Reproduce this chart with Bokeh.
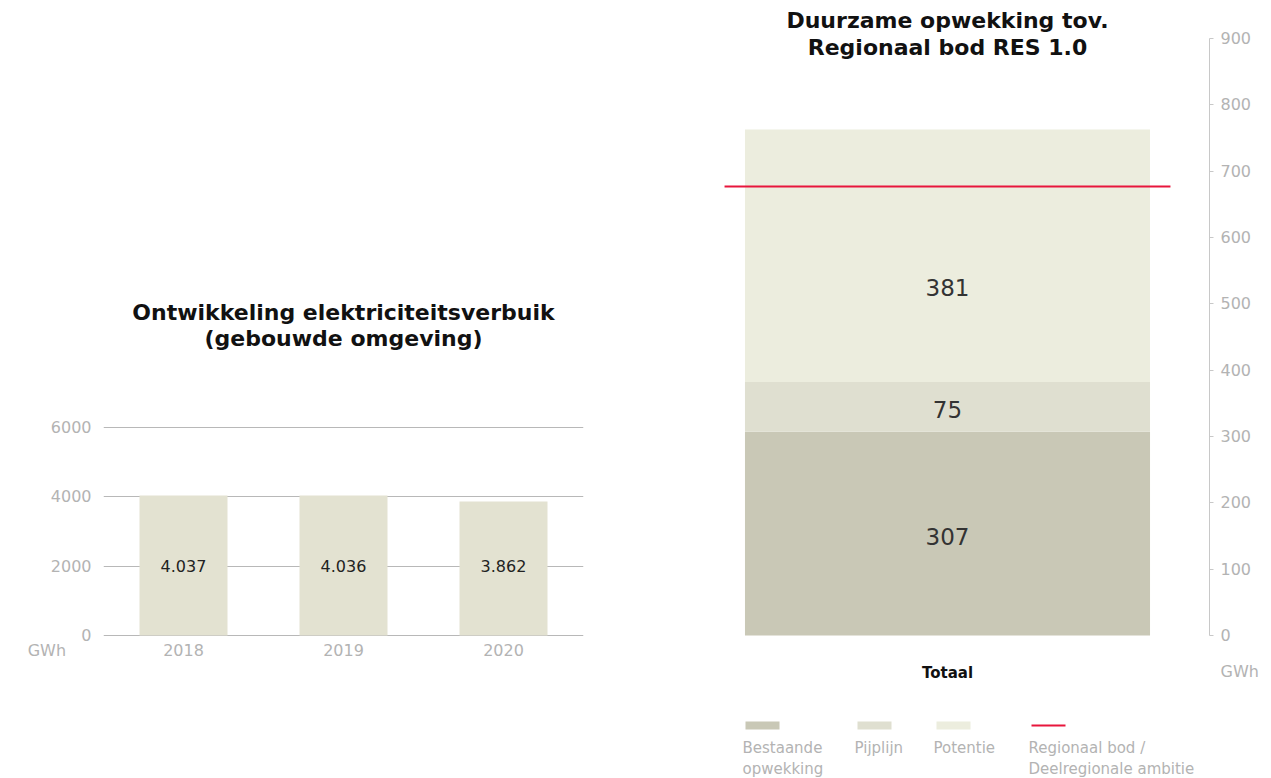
from bokeh.plotting import figure
from bokeh.layouts import row, column
from bokeh.models import Range1d, FactorRange, FixedTicker, Label, LinearAxis
from bokeh.core.properties import value
from bokeh.embed import file_html
from bokeh.resources import INLINE

# ---------------- data ----------------
years = ["2018", "2019", "2020"]
verbruik = [4037, 4036, 3862]
left_ticks = [0, 2000, 4000, 6000]
left_title = ["Ontwikkeling elektriciteitsverbuik", "(gebouwde omgeving)"]

res_category = ["Totaal"]
res_series = ["Bestaande opwekking", "Pijplijn", "Potentie"]
bestaande = [307]
pijplijn = [75]
potentie = [381]
regionaal_bod = 677
right_ticks = [0, 100, 200, 300, 400, 500, 600, 700, 800, 900]
right_title = ["Duurzame opwekking tov.", "Regionaal bod RES 1.0"]
legend_labels = ["Bestaande\nopwekking", "Pijplijn", "Potentie", "Regionaal bod /\nDeelregionale ambitie"]
unit = "GWh"

# ---------------- styles ----------------
C_LEFT = "#e3e2d1"
C_SERIES = ["#c9c8b6", "#dfdfd0", "#ecedde"]
C_RED = "#e8163c"
C_GRAY = "#b3b3b3"
C_GRID = "#b8b8b8"
C_AXIS = "#c8c8c8"
NUM_FONT = "DejaVu Sans"
TITLE_FONT = "DejaVu Sans"
NBSP = "\u00a0"


def nl(v):
    return f"{v:,}".replace(",", ".")


# ---------------- left chart ----------------
L_W, L_H = 628, 770
L_TOP = 48                 # frame top (px from figure top)
L_ZERO = 635               # px of value 0
L_FBOT = 666               # frame bottom px
px_per_unit_l = 208 / 6000.0
y_start_l = -(L_FBOT - L_ZERO) / px_per_unit_l
y_end_l = (L_ZERO - L_TOP) / px_per_unit_l
unit_pos_l = -430          # unit caption sits one row below the 0 tick

p1 = figure(x_range=FactorRange(*years), y_range=Range1d(y_start_l, y_end_l),
            width=L_W, height=L_H, output_backend="svg", toolbar_location=None,
            title=None, min_border_left=103, min_border_right=45,
            min_border_bottom=L_H - L_FBOT, min_border_top=L_TOP)
p1.outline_line_color = None
p1.background_fill_color = None
p1.border_fill_color = None
p1.xgrid.visible = False
p1.ygrid.ticker = FixedTicker(ticks=left_ticks)
p1.ygrid.grid_line_color = C_GRID
p1.yaxis.ticker = FixedTicker(ticks=[unit_pos_l] + left_ticks)
p1.yaxis.major_label_overrides = {unit_pos_l: unit + NBSP * 5}
p1.xaxis.fixed_location = 0
for ax in (p1.xaxis, p1.yaxis):
    ax.axis_line_color = None
    ax.major_tick_line_color = None
    ax.minor_tick_line_color = None
    ax.major_tick_out = 0
    ax.major_tick_in = 0
    ax.major_label_text_color = C_GRAY
    ax.major_label_text_font = NUM_FONT
    ax.major_label_text_font_size = "16px"
p1.yaxis.major_label_standoff = 12
p1.xaxis.major_label_standoff = 8

p1.vbar(x=years, top=verbruik, width=0.55, color=C_LEFT, line_color=None)
label_row_l = max(verbruik) / 2   # value labels share one row
p1.text(x=years, y=[label_row_l] * len(years), text=[nl(v) for v in verbruik],
        text_align="center", text_baseline="middle", text_color="#222222",
        text_font=value(NUM_FONT), text_font_size="16px")

for i, t in enumerate(left_title):
    yp = 312 + 26 * i  # page y of line centre
    p1.add_layout(Label(x=len(years) / 2, y=(L_ZERO - yp) / px_per_unit_l, text=t,
                        text_align="center", text_baseline="middle",
                        text_font=TITLE_FONT, text_font_style="bold",
                        text_font_size="22px", text_color="#111111"))

# ---------------- right chart ----------------
R_X0 = L_W
R_W, R_H = 635, 706
R_LEFT, R_RIGHT = 57, 54
R_TOP = 1
R_ZERO = 635
R_FBOT = 684
px_per_unit_r = 597 / 900.0
y_start_r = -(R_FBOT - R_ZERO) / px_per_unit_r
y_end_r = (R_ZERO - R_TOP) / px_per_unit_r
unit_pos_r = -54
cat_row_r = -(663 - R_ZERO) / px_per_unit_r   # row of the category label

p2 = figure(x_range=FactorRange(*res_category), y_range=Range1d(y_start_r, y_end_r),
            width=R_W, height=R_H, output_backend="svg", toolbar_location=None,
            title=None, y_axis_location="right",
            min_border_left=R_LEFT, min_border_right=R_RIGHT,
            min_border_bottom=R_H - R_FBOT, min_border_top=R_TOP)
p2.outline_line_color = None
p2.background_fill_color = None
p2.border_fill_color = None
p2.xgrid.visible = False
p2.ygrid.visible = False

# axis line + ticks (no labels)
ax_line = p2.yaxis[0]
ax_line.ticker = FixedTicker(ticks=right_ticks)
ax_line.bounds = (right_ticks[0], right_ticks[-1])
ax_line.axis_line_color = C_AXIS
ax_line.major_tick_line_color = C_AXIS
ax_line.major_tick_out = 4
ax_line.major_tick_in = 0
ax_line.minor_tick_line_color = None
ax_line.major_label_standoff = 0
ax_line.major_label_overrides = {t: "" for t in right_ticks}

# tick labels + unit caption
ax_lab = LinearAxis(ticker=FixedTicker(ticks=[unit_pos_r] + right_ticks),
                    major_label_overrides={unit_pos_r: unit},
                    axis_line_color=None, major_tick_line_color=None,
                    major_tick_out=0, major_tick_in=0,
                    minor_tick_line_color=None, major_label_standoff=7,
                    major_label_text_color=C_GRAY,
                    major_label_text_font=NUM_FONT,
                    major_label_text_font_size="16px")
p2.add_layout(ax_lab, "right")

p2.xaxis.fixed_location = cat_row_r
p2.xaxis.axis_line_color = None
p2.xaxis.major_tick_line_color = None
p2.xaxis.minor_tick_line_color = None
p2.xaxis.major_tick_out = 0
p2.xaxis.major_tick_in = 0
p2.xaxis.major_label_text_color = "#111111"
p2.xaxis.major_label_text_font = TITLE_FONT
p2.xaxis.major_label_text_font_style = "bold"
p2.xaxis.major_label_text_font_size = "15px"
p2.xaxis.major_label_standoff = 0

src = dict(x=res_category, b=bestaande, p=pijplijn, q=potentie)
p2.vbar_stack(["b", "p", "q"], x="x", width=0.773, color=C_SERIES,
              line_color=None, source=src)
p2.rect(x=res_category, y=[regionaal_bod], width=0.851, height=2,
        height_units="screen", color=C_RED, line_color=None)

# segment labels
vals = [bestaande[0], pijplijn[0], potentie[0]]
lab_y = []
base = 0
for v in vals:
    top = base + v
    lab_y.append((base + min(top, regionaal_bod)) / 2)
    base = top
p2.text(x=res_category * 3, y=lab_y, text=[nl(v) for v in vals],
        text_align="center", text_baseline="middle", text_color="#333333",
        text_font=value(NUM_FONT), text_font_size="23px", y_offset=3)

for i, t in enumerate(right_title):
    yp = 20 + 27 * i
    p2.add_layout(Label(x=0.5, y=(R_ZERO - yp) / px_per_unit_r, text=t,
                        text_align="center", text_baseline="middle",
                        text_font=TITLE_FONT, text_font_style="bold",
                        text_font_size="22px", text_color="#111111"))

# ---------------- legend ----------------
G_H = 778 - R_H
fx0 = R_X0 + R_LEFT
fx1 = R_X0 + R_W - R_RIGHT
leg = figure(x_range=Range1d(fx0, fx1), y_range=Range1d(R_H + G_H, R_H),
             width=R_W, height=G_H, output_backend="svg", toolbar_location=None,
             title=None, min_border_left=R_LEFT, min_border_right=R_RIGHT,
             min_border_top=0, min_border_bottom=0)
leg.outline_line_color = None
leg.axis.visible = False
leg.grid.visible = False
leg.background_fill_color = None
leg.border_fill_color = None

sw_left = [745, 857, 936, 1031]
sw_w = 34
sw_y = 725
leg.rect(x=[s + sw_w / 2 for s in sw_left[:3]], y=[sw_y] * 3, width=sw_w, height=8,
         color=C_SERIES, line_color=None)
leg.rect(x=[sw_left[3] + sw_w / 2], y=[sw_y], width=sw_w, height=2,
         color=C_RED, line_color=None)
leg.text(x=[s - 3 for s in sw_left], y=[738] * 4, text=legend_labels,
         text_align="left", text_baseline="top", text_color=C_GRAY,
         text_font=value(NUM_FONT), text_font_size="15px", text_line_height=1.22)

layout = row(p1, column(p2, leg))
open("out.html", "w").write(file_html(layout, INLINE))
